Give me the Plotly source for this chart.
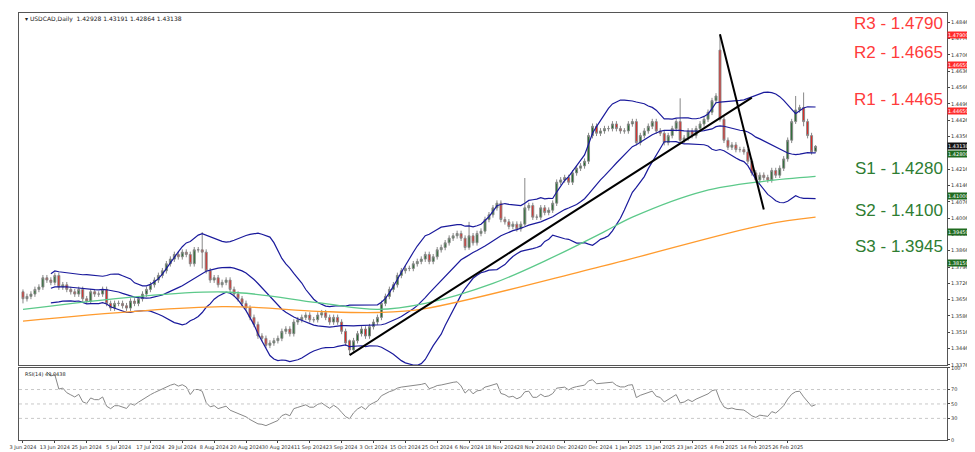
import pandas as pd
import numpy as np
import plotly.graph_objects as go
from plotly.subplots import make_subplots

# Clôtures quotidiennes USDCAD (juin 2024 - mars 2025)
closes = [
    # juin
    1.3660, 1.3670, 1.3680, 1.3700, 1.3710, 1.3750, 1.3740, 1.3730, 1.3760, 1.3710,
    1.3720, 1.3700, 1.3690, 1.3680, 1.3700, 1.3660, 1.3650, 1.3690, 1.3680, 1.3680,
    # juillet
    1.3700, 1.3640, 1.3620, 1.3640, 1.3640, 1.3630, 1.3620, 1.3650, 1.3640, 1.3660,
    1.3680, 1.3700, 1.3720, 1.3740, 1.3760, 1.3780, 1.3810, 1.3830, 1.3850, 1.3840,
    1.3860, 1.3850, 1.3810,
    # août
    1.3870, 1.3870, 1.3860, 1.3780, 1.3740, 1.3750, 1.3720, 1.3730, 1.3740, 1.3700,
    1.3680, 1.3660, 1.3640, 1.3620, 1.3580, 1.3550, 1.3500, 1.3490, 1.3460, 1.3470,
    1.3480, 1.3490,
    # septembre
    1.3520, 1.3530, 1.3510, 1.3560, 1.3570, 1.3580, 1.3590, 1.3570, 1.3570, 1.3590,
    1.3600, 1.3580, 1.3560, 1.3580, 1.3560, 1.3520, 1.3470, 1.3440, 1.3480, 1.3510,
    1.3530,
    # octobre
    1.3500, 1.3540, 1.3560, 1.3580, 1.3640, 1.3670, 1.3700, 1.3720, 1.3760, 1.3780,
    1.3790, 1.3790, 1.3810, 1.3820, 1.3830, 1.3850, 1.3820, 1.3840, 1.3870, 1.3880,
    1.3900, 1.3920, 1.3930,
    # novembre
    1.3940, 1.3920, 1.3880, 1.3930, 1.3900, 1.3940, 1.3950, 1.4000, 1.4020, 1.4050,
    1.4070, 1.4000, 1.3990, 1.3970, 1.3980, 1.3960, 1.3980, 1.4050, 1.4060, 1.4010,
    1.4010,
    # décembre
    1.4050, 1.4030, 1.4040, 1.4070, 1.4160, 1.4170, 1.4180, 1.4160, 1.4200, 1.4220,
    1.4230, 1.4250, 1.4360, 1.4400, 1.4370, 1.4380, 1.4390, 1.4390, 1.4410, 1.4390,
    1.4380, 1.4380,
    # janvier
    1.4410, 1.4420, 1.4330, 1.4360, 1.4380, 1.4400, 1.4420, 1.4380, 1.4370, 1.4330,
    1.4360, 1.4390, 1.4420, 1.4340, 1.4350, 1.4380, 1.4360, 1.4390, 1.4410, 1.4430,
    1.4460, 1.4510, 1.4530,
    # février
    1.4430, 1.4340, 1.4310, 1.4320, 1.4300, 1.4300, 1.4290, 1.4250, 1.4200, 1.4170,
    1.4190, 1.4180, 1.4170, 1.4210, 1.4190, 1.4220, 1.4260, 1.4340, 1.4420, 1.4470,
    # mars
    1.4480, 1.4420, 1.4360, 1.4290, 1.43138,
]
dates = pd.bdate_range("2024-06-03", periods=len(closes))

# mèches particulières (date: (open, high, low))
special = {
    "2024-06-03": (1.3690, 1.3700, 1.3640),
    "2024-08-05": (1.3870, 1.3946, 1.3790),
    "2024-09-25": (1.3480, 1.3485, 1.3420),
    "2024-11-06": (1.3880, 1.3990, 1.3870),
    "2024-11-26": (1.3980, 1.4178, 1.3970),
    "2025-01-20": (1.4420, 1.4520, 1.4330),
    "2025-02-03": (1.4727, 1.4793, 1.4420),
    "2025-02-28": (1.4420, 1.4530, 1.4410),
    "2025-03-04": (1.4480, 1.4545, 1.4400),
    "2025-03-07": (1.42928, 1.43191, 1.42864),
}

# moyennes mobiles (points relevés)
ma_green_dates = ["2024-06-03", "2024-08-12", "2024-09-13", "2024-10-04", "2024-10-22", "2024-11-14",
                  "2024-12-04", "2024-12-24", "2025-01-02", "2025-01-28", "2025-02-18", "2025-03-07"]
ma_green = [1.3614, 1.3689, 1.3643, 1.3614, 1.3640, 1.3726, 1.3830, 1.3948, 1.4010, 1.4122, 1.4164, 1.4185]
ma_orange_dates = ["2024-06-03", "2024-08-12", "2024-09-13", "2024-10-04", "2024-10-22", "2024-12-24",
                   "2025-02-18", "2025-03-07"]
ma_orange = [1.3564, 1.3626, 1.3606, 1.3601, 1.3618, 1.3802, 1.3977, 1.4010]

levels_r = [("R3", 1.4790), ("R2", 1.4665), ("R1", 1.4465)]
levels_s = [("S1", 1.4280), ("S2", 1.4100), ("S3", 1.3945)]
extra_s = 1.3815
last_price = 1.43138

trend_up = (["2024-09-25", "2025-02-13"], [1.3418, 1.4523])
trend_down = (["2025-02-03", "2025-02-18"], [1.4795, 1.4043])

df = pd.DataFrame({"date": dates, "close": closes})
df["open"] = df["close"].shift(1).fillna(df["close"].iloc[0])
df["high"] = df[["open", "close"]].max(axis=1) + 0.0012
df["low"] = df[["open", "close"]].min(axis=1) - 0.0012
for d, (o, h, l) in special.items():
    m = df["date"] == pd.Timestamp(d)
    df.loc[m, ["open", "high", "low"]] = [o, h, l]
df["x"] = np.arange(len(df))
idx = {d: i for i, d in enumerate(df["date"])}

def xi(ds):
    return [idx[pd.Timestamp(d)] for d in ds]

mid = df["close"].rolling(20, min_periods=8).mean()
sd = df["close"].rolling(20, min_periods=8).std(ddof=0)
delta = df["close"].diff()
up = delta.clip(lower=0).ewm(alpha=1/14, adjust=False, min_periods=6).mean()
dn = (-delta.clip(upper=0)).ewm(alpha=1/14, adjust=False, min_periods=6).mean()
rsi = 100 - 100 / (1 + up / dn)

fig = make_subplots(rows=2, cols=1, shared_xaxes=True, vertical_spacing=0.007,
                    row_heights=[0.83, 0.17])

red, green = "#ff3b3b", "#2e7d32"
for name, v in levels_r:
    fig.add_hline(y=v, line=dict(color="#ff7070", width=1, dash="dash"), row=1, col=1)
for name, v in levels_s + [("", extra_s)]:
    fig.add_hline(y=v, line=dict(color="#6aaa6a", width=1, dash="dash"), row=1, col=1)
fig.add_hline(y=last_price, line=dict(color="#b0b0b0", width=1), row=1, col=1)

fig.add_trace(go.Scatter(x=df["x"], y=mid + 2 * sd, mode="lines", line=dict(color="#1a1a9c", width=1.2)), 1, 1)
fig.add_trace(go.Scatter(x=df["x"], y=mid, mode="lines", line=dict(color="#1a1a9c", width=1.2)), 1, 1)
fig.add_trace(go.Scatter(x=df["x"], y=mid - 2 * sd, mode="lines", line=dict(color="#1a1a9c", width=1.2)), 1, 1)
fig.add_trace(go.Scatter(x=xi(ma_green_dates), y=ma_green, mode="lines", line=dict(color="#5cc98a", width=1.3, shape="spline")), 1, 1)
fig.add_trace(go.Scatter(x=xi(ma_orange_dates), y=ma_orange, mode="lines", line=dict(color="#ff9b2e", width=1.3, shape="spline")), 1, 1)

fig.add_trace(go.Candlestick(x=df["x"], open=df["open"], high=df["high"], low=df["low"], close=df["close"],
                             increasing=dict(fillcolor="#1e6b2a", line=dict(color="#888888", width=1)),
                             decreasing=dict(fillcolor="#e8201c", line=dict(color="#888888", width=1)),
                             whiskerwidth=0), 1, 1)

for ds, vs in (trend_up, trend_down):
    fig.add_trace(go.Scatter(x=xi(ds), y=vs, mode="lines", line=dict(color="black", width=2)), 1, 1)

fig.add_trace(go.Scatter(x=df["x"], y=rsi, mode="lines", line=dict(color="#888888", width=1)), 2, 1)
for v in (70, 50, 30):
    fig.add_hline(y=v, line=dict(color="#c8c8c8", width=1, dash="dot"), row=2, col=1)

# étiquettes des niveaux
for name, v in levels_r:
    fig.add_annotation(x=0.998, xref="x domain", y=v, yref="y", yshift=12, text=f"{name} - {v:.4f}",
                       showarrow=False, xanchor="right", font=dict(size=17, color=red, family="Liberation Sans"))
for name, v in levels_s:
    fig.add_annotation(x=0.998, xref="x domain", y=v, yref="y", yshift=-14, text=f"{name} - {v:.4f}",
                       showarrow=False, xanchor="right", font=dict(size=17, color=green, family="Liberation Sans"))
tags = [(v, "#ff2a2a") for _, v in levels_r] + [(v, "#1f6b1f") for _, v in levels_s] + [(extra_s, "#1f6b1f"), (last_price, "#111111")]
for v, c in tags:
    fig.add_annotation(x=1.0, xref="paper", y=v, yref="y", text=f"{v:.5f}", showarrow=False, xanchor="left",
                       bgcolor=c, font=dict(size=5, color="white"), borderpad=0)

fig.add_annotation(x=0.004, xref="paper", y=1.0, yref="paper", yanchor="top", xanchor="left",
                   text="▾ USDCAD,Daily  1.42928 1.43191 1.42864 1.43138", showarrow=False,
                   font=dict(size=6, color="#222"))
fig.add_annotation(x=0.004, xref="paper", y=0.166, yref="paper", yanchor="top", xanchor="left",
                   text="RSI(14) 49.0438", showarrow=False, font=dict(size=5, color="#222"))

tickpos = list(range(0, len(df), 8))
ticktext = [f"{d.day} {d.strftime('%b %Y')}" for d in df["date"].iloc[tickpos]]
ax = dict(showline=True, linecolor="#555", mirror=True, showgrid=False, zeroline=False)
fig.update_xaxes(range=[-1, 232], **ax)
fig.update_xaxes(tickvals=tickpos, ticktext=ticktext, tickfont=dict(size=5, color="#333"),
                 tickangle=0, ticks="outside", ticklen=2, row=2, col=1)
fig.update_xaxes(rangeslider_visible=False, row=1, col=1)
yticks = [round(1.3376 + 0.007 * i, 4) for i in range(22)]
fig.update_yaxes(side="right", range=[1.3376, 1.4886], tickvals=yticks,
                 ticktext=[f"{v:.5f}" for v in yticks], tickfont=dict(size=5, color="#333"),
                 ticks="outside", ticklen=2, row=1, col=1, **ax)
fig.update_yaxes(side="right", range=[0, 100], tickvals=[0, 30, 50, 70, 100],
                 tickfont=dict(size=5, color="#333"), ticks="outside", ticklen=2, row=2, col=1, **ax)

fig.update_layout(width=975, height=452, showlegend=False, plot_bgcolor="white", paper_bgcolor="white",
                  margin=dict(l=10, r=36, t=2, b=20), font=dict(family="DejaVu Sans"))
fig.write_html("out.html")
